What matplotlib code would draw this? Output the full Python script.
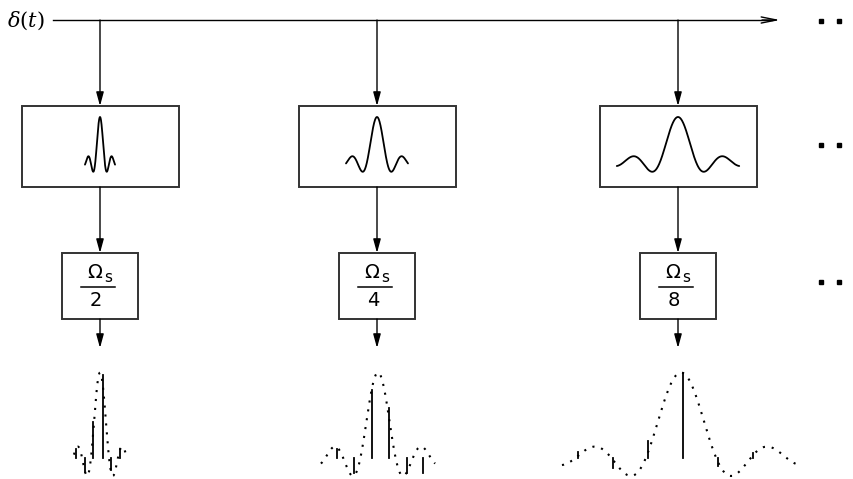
import numpy as np
import matplotlib
matplotlib.use("Agg")
import matplotlib.pyplot as plt
from matplotlib.patches import Rectangle

# ---- data -------------------------------------------------------------
input_label = r"$\delta(t)$"
rate_denominators = ["2", "4", "8"]          # Omega_s / 2, 4, 8
filter_support = [3.2, 3.1, 3.4]              # sinc extent, in zero-crossing units
envelope_support = [2.9, 3.26, 3.4]

# sample instants (in zero-crossing units) and sample values of each branch
sample_t = [
    [-2.67, -1.67, -0.78, 0.33, 1.22, 2.22],
    [-2.36, -1.37, -0.36, 0.63, 1.64, 2.57],
    [-2.95, -1.95, -0.95, 0.07, 1.07, 2.06],
]
sample_v = [
    [0.10, -0.17, 0.42, 0.97, -0.15, 0.10],
    [0.10, -0.18, 0.80, 0.58, -0.18, -0.18],
    [0.07, -0.12, 0.20, 0.99, -0.10, 0.05],
]

# ---- layout (pixel units) ---------------------------------------------
W, H = 854, 479
branch_x = [100, 377, 678]
filter_hw = [4.7, 10.0, 18.0]      # half-width of the impulse response in each box
envelope_hw = [9.0, 17.5, 35.0]
bus_y = 20
big_top, big_bot, big_w = 106, 187, 157
small_top, small_bot, small_w = 253, 319, 76
out_tip = 348
box_base, box_amp = 162, 45
plot_base, plot_amp = 457.5, 85

fig = plt.figure(figsize=(W / 100, H / 100), dpi=100)
ax = fig.add_axes([0, 0, 1, 1])
ax.set_xlim(0, W)
ax.set_ylim(H, 0)
ax.axis("off")

edge = "#333333"


def arrow(x0, y0, x1, y1, hl=0.55, hw=0.15, ms=15):
    ax.annotate("", xy=(x1, y1), xytext=(x0, y0),
                arrowprops=dict(arrowstyle=f"-|>,head_length={hl},head_width={hw}",
                                color="black", lw=1.0, mutation_scale=ms,
                                shrinkA=0, shrinkB=0))


# input bus
ax.text(7, bus_y + 1, input_label, fontsize=15, ha="left", va="center",
        math_fontfamily="dejavuserif")
ax.plot([53, 772], [bus_y, bus_y], color="black", lw=1.0)
ax.annotate("", xy=(780, bus_y), xytext=(762, bus_y),
            arrowprops=dict(arrowstyle="->,head_length=1.1,head_width=0.22",
                            color="black", lw=1.0, mutation_scale=10,
                            shrinkA=0, shrinkB=0))

for i, cx in enumerate(branch_x):
    # bus -> filter box
    arrow(cx, bus_y, cx, big_top)
    ax.add_patch(Rectangle((cx + 1 - big_w / 2, big_top), big_w, big_bot - big_top,
                           fill=False, edgecolor=edge, lw=1.4))
    u = np.linspace(-filter_support[i], filter_support[i], 400)
    ax.plot(cx + u * filter_hw[i], box_base - box_amp * np.sinc(u),
            color="black", lw=1.3, solid_capstyle="round")

    # filter box -> sampler box
    arrow(cx, big_bot, cx, small_top)
    ax.add_patch(Rectangle((cx - small_w / 2, small_top), small_w, small_bot - small_top,
                           fill=False, edgecolor=edge, lw=1.4))
    ax.text(cx - 5.5, 272, "Ω", fontsize=14, ha="center", va="center",
            family="DejaVu Sans")
    ax.text(cx + 8, 278, "s", fontsize=11, ha="center", va="center",
            family="DejaVu Sans")
    ax.plot([cx - 19, cx + 15], [287, 287], color="black", lw=1.1)
    ax.text(cx - 4, 301, rate_denominators[i], fontsize=14, ha="center", va="center",
            family="DejaVu Sans")

    # sampler -> output
    arrow(cx, small_bot, cx, out_tip)

    # dotted envelope and sampled values
    center = cx + (1 if i else 0) + (2 if i == 2 else 0)
    u = np.linspace(-envelope_support[i], envelope_support[i], 600)
    ax.plot(center + u * envelope_hw[i], plot_base - plot_amp * np.sinc(u),
            color="black", lw=1.5, linestyle=(0, (1, 3.3)))
    for t, v in zip(sample_t[i], sample_v[i]):
        xs = center + t * envelope_hw[i]
        ax.plot([xs, xs], [plot_base, plot_base - plot_amp * v],
                color="black", lw=1.3)

# continuation marks on the right
for y in [21, 145, 282]:
    ax.plot([821, 839, 857], [y, y, y], linestyle="none", marker="s",
            markersize=3.4, color="black", clip_on=True)

fig.savefig("out.png", dpi=100)
